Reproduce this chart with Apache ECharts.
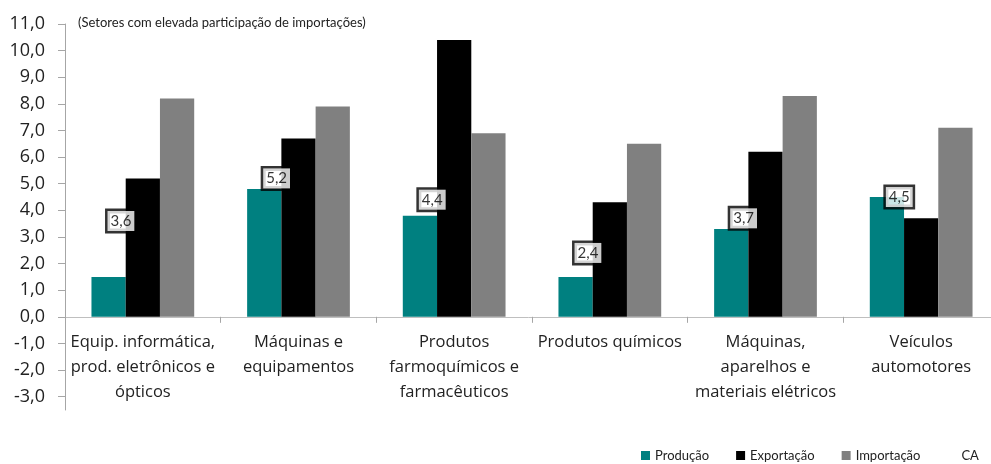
<!DOCTYPE html>
<html>
<head>
<meta charset="utf-8">
<script src="https://cdn.jsdelivr.net/npm/echarts@6/dist/echarts.min.js"></script>
<style>html,body{margin:0;padding:0;background:#fff}#c{width:991px;height:464px}</style>
</head>
<body>
<div id="c"></div>
<script>
const categories = ['Equip. informática,\nprod. eletrônicos e\nópticos', 'Máquinas e\nequipamentos', 'Produtos\nfarmoquímicos e\nfarmacêuticos', 'Produtos químicos', 'Máquinas,\naparelhos e\nmateriais elétricos', 'Veículos\nautomotores'];
const producao = [1.5, 4.8, 3.8, 1.5, 3.3, 4.5];
const exportacao = [5.2, 6.7, 10.4, 4.3, 6.2, 3.7];
const importacao = [8.2, 7.9, 6.9, 6.5, 8.3, 7.1];
const ca = [3.6, 5.2, 4.4, 2.4, 3.7, 4.5];
const yTicks = [-3, -2, -1, 0, 1, 2, 3, 4, 5, 6, 7, 8, 9, 10, 11];
const subtitle = '(Setores com elevada participação de importações)';

const fmt = v => v.toFixed(1).replace('.', ',');
const FONT = 'Lato';
const FONT2 = 'Open Sans';
const Y_MIN = -3.5, Y_MAX = 11;
const GRID_TOP = 24, GRID_BOTTOM = 54, H = 464;
const plotH = H - GRID_TOP - GRID_BOTTOM;
const zeroOffset = -(0 - Y_MIN) / (Y_MAX - Y_MIN) * plotH;

const chart = echarts.init(document.getElementById('c'));
chart.setOption({
  animation: false,
  textStyle: { fontFamily: FONT },
  title: {
    text: subtitle, left: 73, top: 11,
    textStyle: { fontFamily: FONT, fontSize: 13, fontWeight: 'normal', color: '#222' }
  },
  legend: {
    left: 641, top: 449, padding: 0, itemWidth: 9, itemHeight: 9, itemGap: 27, icon: 'rect',
    textStyle: { fontFamily: FONT, fontSize: 13, color: '#222' },
    data: ['Produção', 'Exportação', 'Importação', 'CA']
  },
  grid: { left: 65, right: -8, top: GRID_TOP, bottom: GRID_BOTTOM, containLabel: false, outerBoundsMode: 'none' },
  xAxis: {
    type: 'category', data: categories, position: 'bottom', offset: zeroOffset,
    axisLine: { onZero: false, lineStyle: { color: '#bfbfbf', width: 1 } },
    axisTick: { show: true, alignWithLabel: false, length: 6, lineStyle: { color: '#a6a6a6' } },
    axisLabel: { interval: 0, margin: 13, fontFamily: FONT2, fontSize: 16.5, lineHeight: 25, color: '#222' }
  },
  yAxis: {
    type: 'value', min: Y_MIN, max: Y_MAX, interval: 0.5,
    splitLine: { show: false },
    axisLine: { show: true, lineStyle: { color: '#a6a6a6', width: 1 } },
    axisTick: { show: true, length: 7, customValues: yTicks, lineStyle: { color: '#a6a6a6' } },
    axisLabel: { customValues: yTicks, margin: 20, fontFamily: FONT2, fontSize: 18, color: '#222', formatter: fmt }
  },
  series: [
    { name: 'Produção', type: 'bar', data: producao, barGap: '0%', barCategoryGap: '34%', itemStyle: { color: '#008080' } },
    { name: 'Exportação', type: 'bar', data: exportacao, itemStyle: { color: '#000000' } },
    { name: 'Importação', type: 'bar', data: importacao, itemStyle: { color: '#808080' } },
    {
      name: 'CA', type: 'scatter', data: ca, symbol: 'rect', symbolSize: 1,
      itemStyle: { color: 'rgba(0,0,0,0)' }, z: 10,
      label: {
        show: true, position: 'left', distance: 8, formatter: p => fmt(p.value),
        fontFamily: FONT, fontSize: 15, color: '#000', backgroundColor: '#fff',
        borderColor: '#000', borderWidth: 2.5, padding: [3, 3, 2, 3]
      }
    }
  ]
});
</script>
</body>
</html>
